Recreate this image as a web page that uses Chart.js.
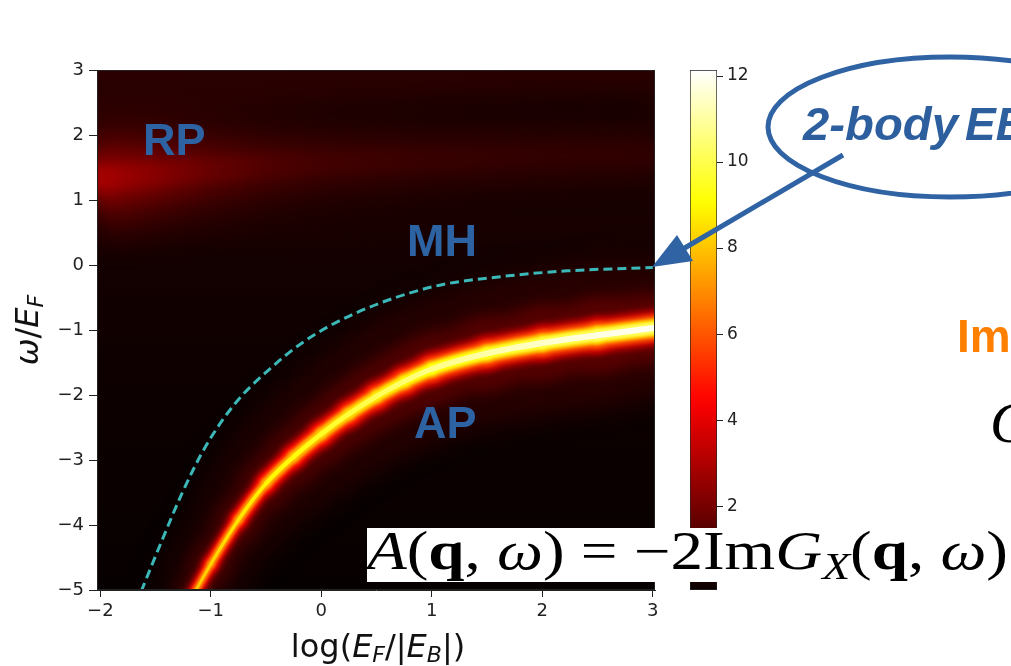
<!DOCTYPE html>
<html>
<head>
<meta charset="utf-8">
<script src="https://cdn.jsdelivr.net/npm/chart.js@4.4.0/dist/chart.umd.min.js"></script>
<style>
    html, body { margin: 0; padding: 0; background: #fff; }
    #wrap { position: relative; width: 1011px; height: 666px; overflow: hidden; }
    canvas { position: absolute; top: 0; }
    #main { left: 0; }
    #cbar { left: 600px; }
    svg { position: absolute; left: 0; top: 0; pointer-events: none; }
</style>
</head>
<body>
<div id="wrap">
    <canvas id="main" width="1011" height="666"></canvas>
    <canvas id="cbar" width="200" height="666"></canvas>
    <svg width="1011" height="666" viewBox="0 0 1011 666">
        <g font-family="Liberation Sans, Arial, sans-serif" font-weight="bold" fill="#2d62a3" font-size="45">
            <text x="143" y="155">RP</text>
            <text x="407" y="256">MH</text>
            <text x="414" y="438">AP</text>
        </g>
        <ellipse cx="950" cy="127" rx="182" ry="70" fill="none" stroke="#2f63a3" stroke-width="5"/>
        <g font-family="Liberation Sans, Arial, sans-serif" font-weight="bold" font-style="italic" font-size="46" fill="#2d5f9e">
            <text x="803" y="140" textLength="155" lengthAdjust="spacingAndGlyphs">2-body</text>
            <text x="965" y="140">EB</text>
        </g>
        <line x1="843" y1="155" x2="683" y2="249" stroke="#2f63a3" stroke-width="5"/>
        <polygon points="652,267 677,235 693,261" fill="#2f63a3"/>
        <text x="957" y="352" font-family="Liberation Sans, Arial, sans-serif" font-weight="bold" font-size="46" fill="#ff8000">Im</text>
        <text x="990" y="442" font-family="Liberation Serif, serif" font-style="italic" font-size="58" fill="#000">G</text>

        <text transform="translate(38,330) rotate(-90)" text-anchor="middle" font-family="DejaVu Sans" font-size="32" fill="#111"><tspan font-style="italic">ω</tspan>/<tspan font-style="italic">E</tspan><tspan font-style="italic" font-size="22" dy="5">F</tspan></text>
        <text x="378" y="657" text-anchor="middle" font-family="DejaVu Sans" font-size="32" fill="#111">log(<tspan font-style="italic">E</tspan><tspan font-style="italic" font-size="22" dy="5">F</tspan><tspan dy="-5">/|</tspan><tspan font-style="italic">E</tspan><tspan font-style="italic" font-size="22" dy="5">B</tspan><tspan dy="-5">|)</tspan></text>

        <rect x="367" y="528" width="644" height="54" fill="#fff"/>
        <text x="367" y="569" font-family="Liberation Serif, serif" font-size="54" fill="#000" textLength="641" lengthAdjust="spacingAndGlyphs"><tspan font-style="italic">A</tspan>(<tspan font-weight="bold">q</tspan>, <tspan font-style="italic">ω</tspan>) = −2Im<tspan font-style="italic">G</tspan><tspan font-style="italic" font-size="38" dy="10">X</tspan><tspan dy="-10">(</tspan><tspan font-weight="bold">q</tspan>, <tspan font-style="italic">ω</tspan>)</text>
    </svg>
</div>
<script>
    // axes
    const xMin = -2.03, xMax = 3.02;
    const yMin = -5, yMax = 3;
    const xTicks = [-2, -1, 0, 1, 2, 3];
    const yTicks = [-5, -4, -3, -2, -1, 0, 1, 2, 3];
    const cbMin = 0.05, cbMax = 12.14;
    const cbTicks = [2, 4, 6, 8, 10, 12];

    // attractive polaron (AP) peak
    const apX = [-1.15, -1.0, -0.75, -0.5, -0.25, 0, 0.25, 0.5, 0.75, 1.0, 1.5, 2.0, 2.5, 3.05];
    const apOmega = [-5.05, -4.6, -3.92, -3.36, -2.95, -2.6, -2.29, -2.02, -1.79, -1.6, -1.36, -1.2, -1.08, -0.96];
    const apPeak = [8.0, 8.3, 8.6, 8.9, 9.2, 9.5, 9.8, 10.1, 10.4, 10.7, 11.1, 11.5, 11.8, 12.0];

    // repulsive polaron (RP) band
    const rpX = [-2.05, -1.5, -1.0, -0.5, 0, 1, 2, 3.05];
    const rpOmega = [1.33, 1.4, 1.47, 1.52, 1.57, 1.63, 1.68, 1.7];
    const rpPeak = [2.9, 2.3, 1.7, 1.3, 1.05, 0.85, 0.75, 0.7];

    // molecule-hole continuum edge (dashed)
    const mhX = [-1.63, -1.44, -1.26, -1.05, -0.78, -0.48, -0.15, 0.31, 1.02, 1.62, 2.23, 3.0];
    const mhOmega = [-5.02, -4.23, -3.51, -2.8, -2.13, -1.62, -1.17, -0.74, -0.33, -0.18, -0.09, -0.04];

    const tickFont = { family: 'DejaVu Sans', size: 18 };
    const fmt = v => v < 0 ? '\u2212' + Math.abs(v) : String(v);

    function hot(v) {
        let t = (v - cbMin) / (cbMax - cbMin);
        t = Math.max(0, Math.min(1, t));
        const r = t < 0.365 ? 0.0416 + 0.9584 * t / 0.365 : 1;
        const g = t < 0.365 ? 0 : (t < 0.746 ? (t - 0.365) / 0.381 : 1);
        const b = t < 0.746 ? 0 : (t - 0.746) / 0.254;
        return `rgb(${Math.round(r * 255)},${Math.round(g * 255)},${Math.round(b * 255)})`;
    }

    const toPoints = (xs, ys) => xs.map((x, i) => ({ x: x, y: ys[i] }));

    // horizontal colour ramp along a band, from its peak values
    function bandColor(c, xs, peaks, f) {
        const chart = c.chart;
        const a = chart.chartArea;
        if (!a) return hot(peaks[0] * f);
        const x = chart.scales.x;
        const g = chart.ctx.createLinearGradient(a.left, 0, a.right, 0);
        xs.forEach((v, i) => {
            const s = (x.getPixelForValue(v) - a.left) / (a.right - a.left);
            g.addColorStop(Math.max(0, Math.min(1, s)), hot(peaks[i] * f));
        });
        return g;
    }

    // vertical thickness -> perpendicular line width for a segment
    function thickness(c, w) {
        const dx = c.p1.x - c.p0.x, dy = c.p1.y - c.p0.y;
        const len = Math.hypot(dx, dy) || 1;
        return Math.max(2, w * Math.abs(dx) / len);
    }

    const datasets = [];

    const rpLayers = [
        { w: 120, f: 0.35, blur: 14 },
        { w: 75, f: 0.6, blur: 10 },
        { w: 45, f: 0.8, blur: 7 },
        { w: 24, f: 1.0, blur: 5 }
    ];
    rpLayers.forEach((L, k) => {
        datasets.push({
            data: toPoints(rpX, rpOmega),
            borderWidth: L.w,
            borderColor: c => bandColor(c, rpX, rpPeak, L.f),
            pointRadius: 0,
            cubicInterpolationMode: 'monotone',
            borderCapStyle: 'butt',
            clip: 0,
            blur: L.blur,
            order: 40 - k
        });
    });

    const apLayers = [
        { w: 130, f: 0.05, blur: 16 },
        { w: 70, f: 0.12, blur: 8 },
        { w: 36, f: 0.3, blur: 3 },
        { w: 26, f: 0.5, blur: 2 },
        { w: 18, f: 0.7, blur: 1.5 },
        { w: 12, f: 0.85, blur: 1 },
        { w: 6, f: 1.0, blur: 0.5 }
    ];
    apLayers.forEach((L, k) => {
        datasets.push({
            data: toPoints(apX, apOmega),
            borderWidth: L.w,
            borderColor: c => bandColor(c, apX, apPeak, L.f),
            pointRadius: 0,
            cubicInterpolationMode: 'monotone',
            borderCapStyle: 'round',
            borderJoinStyle: 'round',
            clip: 0,
            blur: L.blur,
            order: 20 - k,
            segment: {
                borderWidth: c => thickness(c, L.w)
            }
        });
    });

    datasets.push({
        data: toPoints(mhX, mhOmega),
        borderColor: '#3cb8b8',
        borderWidth: 3,
        borderDash: [9, 5],
        pointRadius: 0,
        cubicInterpolationMode: 'monotone',
        clip: 0,
        order: 0
    });

    const bgPlugin = {
        id: 'bg',
        beforeDatasetsDraw(chart) {
            const { ctx, chartArea: a, scales } = chart;
            const y = scales.y;
            const g = ctx.createLinearGradient(0, a.top, 0, a.bottom);
            const stops = [[3, '#2a0000'], [2, '#270000'], [0, '#130000'], [-2, '#0d0000'], [-5, '#070000']];
            stops.forEach(([v, col]) => {
                g.addColorStop((y.getPixelForValue(v) - a.top) / (a.bottom - a.top), col);
            });
            ctx.save();
            ctx.fillStyle = g;
            ctx.fillRect(a.left, a.top, a.right - a.left, a.bottom - a.top);
            ctx.restore();
        },
        beforeDatasetDraw(chart, args) {
            const ds = chart.data.datasets[args.index];
            chart.ctx.save();
            if (ds.blur) chart.ctx.filter = `blur(${ds.blur}px)`;
        },
        afterDatasetDraw(chart) {
            chart.ctx.restore();
        },
        afterDraw(chart) {
            const { ctx, chartArea: a } = chart;
            ctx.save();
            ctx.strokeStyle = '#222';
            ctx.lineWidth = 1;
            ctx.strokeRect(a.left + 0.5, a.top + 0.5, a.right - a.left - 1, a.bottom - a.top - 1);
            ctx.restore();
        }
    };

    new Chart(document.getElementById('main'), {
        type: 'line',
        data: { datasets: datasets },
        options: {
            responsive: false,
            animation: false,
            layout: { padding: { left: 0, right: 356, top: 70, bottom: 0 } },
            plugins: { legend: { display: false }, tooltip: { enabled: false } },
            scales: {
                x: {
                    type: 'linear',
                    min: xMin,
                    max: xMax,
                    afterBuildTicks: s => { s.ticks = xTicks.map(v => ({ value: v })); },
                    afterFit: s => { s.height = 76; },
                    ticks: { font: tickFont, color: '#222', padding: 4, callback: fmt, maxRotation: 0 },
                    grid: { drawOnChartArea: false, tickLength: 7, color: '#222' },
                    border: { display: true, color: '#222' }
                },
                y: {
                    type: 'linear',
                    min: yMin,
                    max: yMax,
                    afterBuildTicks: s => { s.ticks = yTicks.map(v => ({ value: v })); },
                    afterFit: s => { s.width = 97; },
                    ticks: { font: tickFont, color: '#222', padding: 5, callback: fmt },
                    grid: { drawOnChartArea: false, tickLength: 8, color: '#222' },
                    border: { display: true, color: '#222' }
                }
            }
        },
        plugins: [bgPlugin]
    });

    new Chart(document.getElementById('cbar'), {
        type: 'bar',
        data: {
            labels: [''],
            datasets: [{
                data: [[cbMin, cbMax]],
                backgroundColor: c => {
                    const chart = c.chart;
                    if (!chart.chartArea) return '#000';
                    const y = chart.scales.y;
                    const g = chart.ctx.createLinearGradient(0, y.getPixelForValue(cbMin), 0, y.getPixelForValue(cbMax));
                    for (let i = 0; i <= 40; i++) {
                        g.addColorStop(i / 40, hot(cbMin + (cbMax - cbMin) * i / 40));
                    }
                    return g;
                },
                borderColor: '#222',
                borderWidth: 1,
                borderSkipped: false,
                barPercentage: 1,
                categoryPercentage: 1
            }]
        },
        options: {
            responsive: false,
            animation: false,
            layout: { padding: { left: 90, right: 0, top: 70, bottom: 76 } },
            plugins: { legend: { display: false }, tooltip: { enabled: false } },
            scales: {
                x: { display: false },
                y: {
                    position: 'right',
                    min: cbMin,
                    max: cbMax,
                    afterBuildTicks: s => { s.ticks = cbTicks.map(v => ({ value: v })); },
                    afterFit: s => { s.width = 83; },
                    ticks: { font: { family: 'DejaVu Sans', size: 17 }, color: '#222', padding: 4 },
                    grid: { drawOnChartArea: false, tickLength: 6, color: '#222' },
                    border: { display: false }
                }
            }
        }
    });
</script>
</body>
</html>
